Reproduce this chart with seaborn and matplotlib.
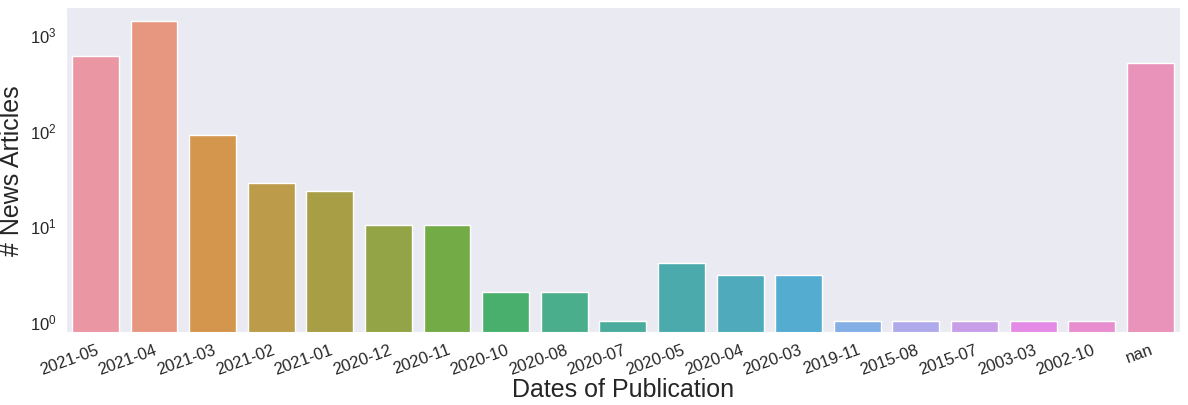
import seaborn as sns
import matplotlib.pyplot as plt
import pandas as pd

# article counts per month of publication
dates = ['2021-05', '2021-04', '2021-03', '2021-02', '2021-01', '2020-12',
         '2020-11', '2020-10', '2020-08', '2020-07', '2020-05', '2020-04',
         '2020-03', '2019-11', '2015-08', '2015-07', '2003-03', '2002-10', 'nan']
counts = [585, 1370, 89, 28, 23, 10, 10, 2, 2, 1, 4, 3, 3, 1, 1, 1, 1, 1, 505]

df = pd.DataFrame({'date': dates, 'count': counts})

sns.set_style('dark')
plt.rcParams['font.family'] = ['Liberation Sans', 'DejaVu Sans']
plt.rcParams['mathtext.fontset'] = 'custom'
plt.rcParams['mathtext.rm'] = 'Liberation Sans'
plt.rcParams['mathtext.it'] = 'Liberation Sans:italic'

fig, ax = plt.subplots(figsize=(11.88, 4.06), dpi=100)

sns.barplot(data=df, x='date', y='count', hue='date', legend=False,
            palette=sns.husl_palette(len(dates), l=.7), saturation=.75,
            edgecolor='white', linewidth=1, ax=ax)

ax.set_yscale('log')
ax.set_ylim(0.77, 1920)

ax.set_xlabel('Dates of Publication', fontsize=18, labelpad=0)
ax.set_ylabel('# News Articles', fontsize=18)
ax.tick_params(axis='y', labelsize=12)
plt.setp(ax.get_xticklabels(), rotation=20, ha='right', rotation_mode='anchor', fontsize=12)

plt.subplots_adjust(left=0.0556, right=0.993, top=0.98, bottom=0.18)

plt.savefig('out.png')
